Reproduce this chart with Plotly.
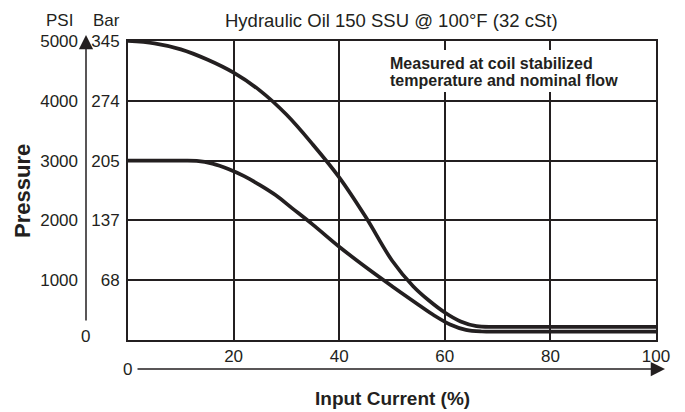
import plotly.graph_objects as go

# ---- data ----
current_a = [0, 5, 10, 15, 20, 25, 30, 35, 40, 45, 50, 54, 57, 60, 63, 66, 70, 85, 100]
psi_a = [5000, 4960, 4860, 4690, 4470, 4170, 3770, 3270, 2720, 2060, 1330, 900, 660, 460, 310, 232, 220, 220, 220]

current_b = [0, 10, 13, 16, 19, 22, 25, 28, 31, 35, 40, 45, 50, 55, 58, 61, 64, 67, 72, 85, 100]
psi_b = [3000, 3000, 2995, 2950, 2860, 2740, 2590, 2420, 2210, 1930, 1560, 1220, 900, 590, 410, 260, 170, 142, 140, 140, 140]

x_ticks = [20, 40, 60, 80, 100]
psi_ticks = [1000, 2000, 3000, 4000, 5000]
psi_labels = ["1000", "2000", "3000", "4000", "5000"]
bar_ticks = [1000, 2000, 3000, 4000, 5000]
bar_labels = ["68", "137", "205", "274", "345"]

INK = "#231f20"
FONT = "Liberation Sans, Arial, Helvetica, sans-serif"

# page body has an 8px default margin; figure coords = reference coords - 8
OFF = 8
W, H = 669, 402
ML, MT = 2, 33
PLOT_R, PLOT_B = 648, 332
MR, MB = W - PLOT_R, H - PLOT_B
PW, PH = PLOT_R - ML, PLOT_B - MT


def px(X):
    return (X - OFF - ML) / PW


def py(Y):
    return (PLOT_B - (Y - OFF)) / PH


fig = go.Figure()
for xs, ys in [(current_a, psi_a), (current_b, psi_b)]:
    fig.add_trace(go.Scatter(x=xs, y=ys, mode="lines",
                             line=dict(color=INK, width=3.7, shape="spline", smoothing=1.0),
                             hoverinfo="skip", showlegend=False))
# invisible trace for PSI axis
fig.add_trace(go.Scatter(x=[50], y=[0], yaxis="y2", mode="markers",
                         marker=dict(opacity=0), showlegend=False, hoverinfo="skip"))

fig.update_layout(
    width=W, height=H,
    margin=dict(l=ML, r=MR, t=MT, b=MB, autoexpand=False),
    paper_bgcolor="white", plot_bgcolor="white",
    font=dict(family=FONT, size=17, color=INK),
    xaxis=dict(domain=[px(128), 1], range=[0, 100], tickvals=x_ticks,
               showgrid=True, gridcolor=INK, gridwidth=1.5,
               showline=True, linecolor=INK, linewidth=2, mirror=True,
               ticks="", zeroline=False, tickfont=dict(size=17)),
    yaxis=dict(range=[0, 5000], tickvals=bar_ticks, ticktext=bar_labels,
               showgrid=True, gridcolor=INK, gridwidth=1.5,
               showline=True, linecolor=INK, linewidth=2, mirror=True,
               ticks="", zeroline=False, tickfont=dict(size=17),
               ticklabelstandoff=3),
    yaxis2=dict(range=[0, 5000], tickvals=psi_ticks, ticktext=psi_labels,
                overlaying="y", anchor="free", position=px(78), side="left",
                showgrid=False, showline=False, ticks="", zeroline=False,
                tickfont=dict(size=17)),
)

# white box behind the note
fig.add_shape(type="rect", xref="paper", yref="paper",
              x0=px(384), x1=px(622), y0=py(92), y1=py(50),
              fillcolor="white", line=dict(width=0), layer="above")


def txt(text, X, Y, size, **kw):
    d = dict(text=text, x=px(X), y=py(Y), xref="paper", yref="paper",
             xanchor="center", yanchor="middle", showarrow=False,
             font=dict(size=size))
    d.update(kw)
    return d


ann = [
    txt("PSI", 59, 20, 17),
    txt("Bar", 106, 20, 17),
    txt("Hydraulic Oil 150 SSU @ 100°F (32 cSt)", 391, 20, 18.5),
    txt("<b>Pressure</b>", 22, 191, 22, textangle=-90),
    txt("<b>Input Current (%)</b>", 392, 398, 19),
    txt("<b>Measured at coil stabilized</b>", 388, 64, 16, xanchor="left"),
    txt("<b>temperature and nominal flow</b>", 388, 80, 16, xanchor="left"),
    txt("0", 85, 336, 17),
    txt("0", 127, 369, 17),
]
# vertical arrow
ann.append(dict(text="", x=px(86), y=py(35), xref="paper", yref="paper",
                showarrow=True, arrowhead=2, arrowsize=1.9, arrowwidth=1.5,
                arrowcolor=INK, ax=0, ay=287, axref="pixel", ayref="pixel"))
# horizontal arrow
ann.append(dict(text="", x=px(665), y=py(369), xref="paper", yref="paper",
                showarrow=True, arrowhead=2, arrowsize=1.9, arrowwidth=1.5,
                arrowcolor=INK, ax=-529, ay=0, axref="pixel", ayref="pixel"))
fig.update_layout(annotations=ann)

fig.write_html("out.html")
